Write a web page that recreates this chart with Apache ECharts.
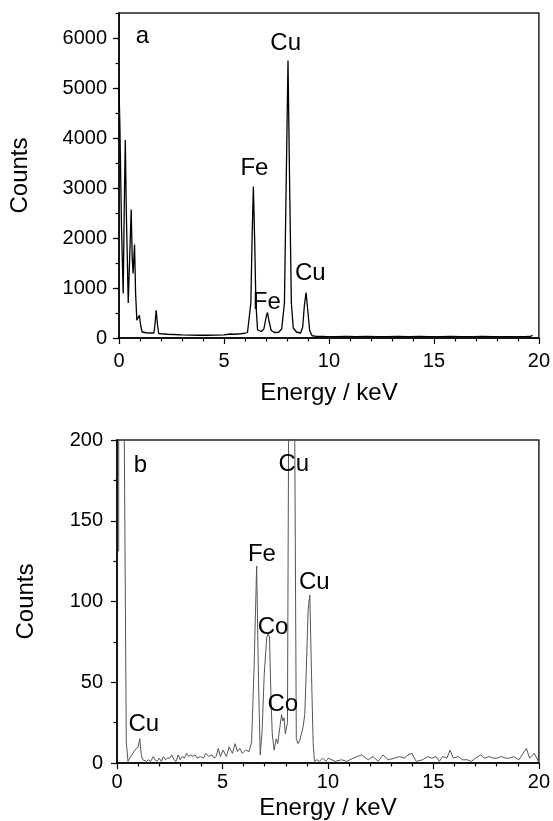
<!DOCTYPE html>
<html>
<head>
<meta charset="utf-8">
<script src="https://cdn.jsdelivr.net/npm/echarts@6/dist/echarts.min.js"></script>
<style>
    html, body { margin: 0; padding: 0; background: #fff; }
    #chart { width: 553px; height: 821px; }
</style>
</head>
<body>
<div id="chart"></div>
<script>
// panel a: EDX spectrum (keV, counts)
const energyA = [0.00, 0.04, 0.12, 0.20, 0.25, 0.30, 0.35, 0.44, 0.50, 0.58, 0.63, 0.67, 0.74, 0.79, 0.85, 0.90,
    0.97, 1.03, 1.10, 1.30, 1.50, 1.66, 1.71, 1.77, 1.83, 1.89, 2.00, 2.30, 2.60, 3.00, 3.40, 3.80, 4.20, 4.60,
    5.00, 5.30, 5.50, 5.80, 6.00, 6.12, 6.20, 6.28, 6.34, 6.40, 6.46, 6.52, 6.60, 6.68, 6.78, 6.90, 7.00, 7.07,
    7.15, 7.25, 7.40, 7.60, 7.75, 7.88, 7.96, 8.05, 8.13, 8.21, 8.30, 8.45, 8.65, 8.75, 8.83, 8.91, 8.99, 9.08,
    9.20, 9.40, 9.80, 10.3, 10.8, 11.3, 11.8, 12.3, 12.8, 13.3, 13.8, 14.3, 14.8, 15.3, 15.8, 16.3, 16.8, 17.3,
    17.8, 18.3, 18.8, 19.3, 19.6, 19.7];
const countsA = [5000, 4300, 2200, 890, 2600, 3960, 2500, 700, 1500, 2570, 1600, 1290, 1870, 900, 355, 400,
    455, 260, 120, 105, 100, 100, 250, 555, 280, 90, 85, 75, 70, 62, 58, 55, 55, 58,
    62, 80, 75, 85, 95, 110, 130, 700, 2000, 3030, 2000, 700, 160, 125, 130, 180, 400, 510,
    330, 150, 110, 115, 180, 700, 3000, 5550, 3000, 700, 200, 120, 100, 220, 650, 910, 560, 150,
    45, 32, 30, 28, 32, 27, 30, 29, 26, 31, 28, 30, 27, 29, 31, 27, 28, 30,
    26, 29, 27, 28, 30, 55];

// panel b: same sample, zoomed counts
const energyB = [0.08, 0.11, 0.22, 0.33, 0.44, 0.52, 0.60, 0.68, 0.75, 0.85, 0.93, 1.00, 1.08, 1.15, 1.22, 1.30,
    1.40, 1.50, 1.60, 1.72, 1.80, 1.90, 2.00, 2.10, 2.20, 2.30, 2.40, 2.50, 2.60, 2.70, 2.80, 2.90, 3.00, 3.10,
    3.20, 3.30, 3.40, 3.50, 3.60, 3.70, 3.80, 3.95, 4.10, 4.20, 4.35, 4.50, 4.60, 4.70, 4.80, 4.90, 5.03, 5.19,
    5.31, 5.47, 5.60, 5.71, 5.82, 5.94, 6.10, 6.26, 6.38, 6.50, 6.62, 6.71, 6.79, 6.88, 6.98, 7.10, 7.17, 7.23,
    7.30, 7.36, 7.45, 7.55, 7.62, 7.72, 7.80, 7.86, 7.92, 7.98, 8.08, 8.14, 8.28, 8.42, 8.50, 8.58, 8.66, 8.74,
    8.82, 8.90, 8.98, 9.06, 9.14, 9.22, 9.30, 9.36, 9.47, 9.60, 9.75, 9.90, 10.02, 10.34, 10.65, 10.89, 11.20,
    11.59, 11.91, 12.14, 12.38, 12.61, 12.85, 13.16, 13.40, 13.63, 13.79, 13.98, 14.18, 14.49, 14.73, 14.92,
    15.12, 15.28, 15.44, 15.64, 15.79, 15.95, 16.17, 16.38, 16.61, 16.80, 17.00, 17.24, 17.43, 17.63, 17.84,
    18.02, 18.21, 18.42, 18.62, 18.81, 19.05, 19.20, 19.41, 19.56, 19.78, 19.98];
const countsB = [131, 2500, 2800, 230, 13, 1, 3, 2, 6, 8, 7, 10, 15, 5, 2, 3,
    1, 2, 1, 4, 2, 1, 3, 1, 4, 2, 3, 3, 5, 2, 1, 5, 2, 4,
    3, 6, 4, 5, 4, 5, 3, 4, 3, 6, 4, 5, 3, 4, 9, 4, 8, 4,
    10, 6, 12, 7, 9, 6, 8, 7, 13, 60, 122, 50, 5, 20, 55, 78, 80, 78,
    40, 18, 8, 15, 12, 22, 30, 26, 28, 18, 25, 220, 1500, 220, 15, 12, 14, 18,
    22, 30, 60, 95, 104, 55, 12, 1, 2, 1, 3, 1, 3, 1, 2, 1, 3,
    5, 2, 4, 1, 5, 2, 3, 4, 3, 5, 6, 1, 2, 4, 3,
    4, 1, 4, 3, 8, 3, 4, 2, 2, 1, 3, 5, 3, 4, 3,
    3, 4, 3, 3, 4, 2, 5, 9, 3, 6, 1];

// peak labels (text, keV, counts)
const labelTextA = ['a', 'Fe', 'Cu', 'Fe', 'Cu'];
const labelXA = [1.12, 6.45, 7.94, 7.04, 9.11];
const labelYA = [6030, 3400, 5900, 720, 1290];
const labelTextB = ['b', 'Cu', 'Fe', 'Co', 'Co', 'Cu', 'Cu'];
const labelXB = [1.11, 1.27, 6.87, 7.40, 7.86, 8.38, 9.35];
const labelYB = [184, 24, 129, 84, 36, 185, 112];

const xTicks = [0, 20, 5];   // min, max, interval
const yTicksA = [0, 6500, 1000];
const yTicksB = [0, 200, 50];

const FONT = 'Liberation Sans, Arial, Helvetica, sans-serif';

const zip = (xs, ys) => xs.map((x, i) => [x, ys[i]]);
const labelData = (t, xs, ys) => t.map((s, i) => ({ name: s, value: [xs[i], ys[i]] }));
const plain = (v) => String(v);

const xAxisBase = (gridIndex, labelMargin, nameGap) => ({
    type: 'value',
    gridIndex,
    min: xTicks[0],
    max: xTicks[1],
    interval: xTicks[2],
    name: 'Energy / keV',
    nameLocation: 'middle',
    nameGap,
    nameTextStyle: { fontFamily: FONT, fontSize: 24, color: '#000' },
    axisLine: { show: true, lineStyle: { color: '#000', width: 1.5 } },
    axisTick: { show: true, inside: false, length: 6, lineStyle: { color: '#000', width: 1.2 } },
    minorTick: { show: true, splitNumber: 5, length: 3.5, lineStyle: { color: '#000', width: 1.2 } },
    axisLabel: { fontFamily: FONT, fontSize: 20, color: '#000', margin: labelMargin, formatter: plain },
    splitLine: { show: false }
});

const yAxisCommon = {
    type: 'value',
    name: 'Counts',
    nameLocation: 'middle',
    nameTextStyle: { fontFamily: FONT, fontSize: 24, color: '#000' },
    axisLine: { show: true, lineStyle: { color: '#000', width: 1.5 } },
    axisTick: { show: true, inside: false, length: 6, lineStyle: { color: '#000', width: 1.2 } },
    axisLabel: { fontFamily: FONT, fontSize: 20, color: '#000', margin: 12, formatter: plain },
    splitLine: { show: false }
};

const labelSeries = (xAxisIndex, yAxisIndex, data) => ({
    type: 'scatter',
    xAxisIndex,
    yAxisIndex,
    symbolSize: 0,
    silent: true,
    z: 10,
    label: {
        show: true,
        position: 'inside',
        formatter: '{b}',
        fontFamily: FONT,
        fontSize: 24,
        color: '#000',
        textBorderWidth: 0,
        opacity: 1
    },
    data
});

const options = {
    animation: false,
    backgroundColor: '#fff',
    grid: [
        { left: 118, right: 10, top: 13, height: 325, show: true, borderColor: '#222', borderWidth: 1.5 },
        { left: 117, right: 10, top: 440, height: 323, show: true, borderColor: '#222', borderWidth: 1.5 }
    ],
    xAxis: [
        xAxisBase(0, 13, 43),
        xAxisBase(1, 9, 33)
    ],
    yAxis: [
        // panel a: major ticks + labels
        Object.assign({}, yAxisCommon, {
            gridIndex: 0,
            min: yTicksA[0],
            max: yTicksA[1],
            interval: yTicksA[2],
            nameGap: 87,
            axisLabel: Object.assign({}, yAxisCommon.axisLabel, { showMaxLabel: false })
        }),
        // panel a: minor ticks only (every 500)
        {
            type: 'value',
            gridIndex: 0,
            position: 'left',
            min: yTicksA[0],
            max: yTicksA[1],
            interval: yTicksA[2] / 2,
            axisLine: { show: false },
            axisTick: { show: true, inside: false, length: 3.5, lineStyle: { color: '#000', width: 1.2 } },
            axisLabel: { show: false },
            splitLine: { show: false }
        },
        // panel b
        Object.assign({}, yAxisCommon, {
            gridIndex: 1,
            min: yTicksB[0],
            max: yTicksB[1],
            interval: yTicksB[2],
            nameGap: 79,
            axisLabel: Object.assign({}, yAxisCommon.axisLabel, { margin: 14 }),
            minorTick: { show: true, splitNumber: 2, length: 3.5, lineStyle: { color: '#000', width: 1.2 } }
        })
    ],
    series: [
        {
            type: 'line',
            xAxisIndex: 0,
            yAxisIndex: 0,
            showSymbol: false,
            lineStyle: { color: '#000', width: 1.3 },
            data: zip(energyA, countsA)
        },
        {
            type: 'line',
            xAxisIndex: 1,
            yAxisIndex: 2,
            showSymbol: false,
            clip: true,
            lineStyle: { color: '#555', width: 1 },
            data: zip(energyB, countsB)
        },
        labelSeries(0, 0, labelData(labelTextA, labelXA, labelYA)),
        labelSeries(1, 2, labelData(labelTextB, labelXB, labelYB))
    ]
};

const chart = echarts.init(document.getElementById('chart'));
chart.setOption(options);
</script>
</body>
</html>
